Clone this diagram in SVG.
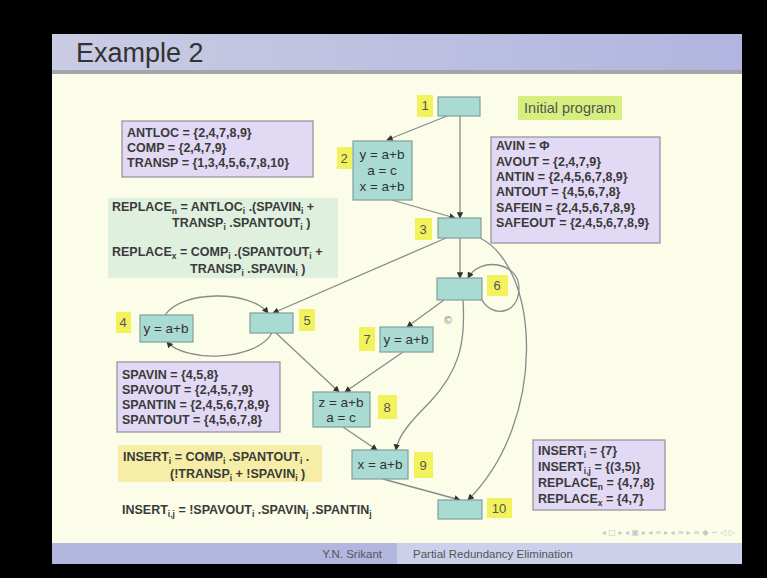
<svg xmlns="http://www.w3.org/2000/svg" width="767" height="578" viewBox="0 0 767 578">
  <defs>
    <linearGradient id="titleGrad" x1="0" y1="0" x2="1" y2="0">
      <stop offset="0" stop-color="#c9cce2"/>
      <stop offset="1" stop-color="#b1b5df"/>
    </linearGradient>
    <marker id="arrow" viewBox="0 0 8 8" refX="7" refY="4" markerWidth="5" markerHeight="5" orient="auto">
      <path d="M0,0 L8,4 L0,8 z" fill="#333"/>
    </marker>
    <style>
      .blk { fill: #a9dbd3; stroke: #7f9fa0; stroke-width: 1.2; }
      .lbl { fill: #f2f25c; }
      .lbltx { font-family: "Liberation Sans", Arial, sans-serif; font-size: 13px; fill: #555; text-anchor: middle; }
      .code { font-family: "Liberation Sans", Arial, sans-serif; font-size: 13.5px; fill: #333; text-anchor: middle; }
      .info { font-family: "Liberation Sans", Arial, sans-serif; font-size: 12.5px; font-weight: bold; fill: #3a3a3a; }
      .sub { font-size: 8.5px; }
      .lav { fill: #e2d9f4; stroke: #8f8f98; stroke-width: 1.2; }
      .edge { fill: none; stroke: #8a8a8a; stroke-width: 1.3; marker-end: url(#arrow); }
      .foot { font-family: "Liberation Sans", Arial, sans-serif; font-size: 11.5px; fill: #555; }
    </style>
  </defs>

  <!-- frame and slide -->
  <rect x="0" y="0" width="767" height="578" fill="#000"/>
  <rect x="52" y="34" width="690" height="530" fill="#fbfde9"/>
  <rect x="52" y="34" width="690" height="37" fill="url(#titleGrad)"/>
  <rect x="52" y="70" width="690" height="4" fill="#a2a6a8"/>
  <text x="76" y="62" font-family="Liberation Sans, Arial, sans-serif" font-size="27" fill="#333">Example 2</text>

  <!-- footer -->
  <rect x="52" y="543" width="345" height="21" fill="#b3b7e0"/>
  <rect x="397" y="543" width="345" height="21" fill="#cdd0ea"/>
  <text class="foot" x="382" y="558" text-anchor="end">Y.N. Srikant</text>
  <text class="foot" x="413" y="558">Partial Redundancy Elimination</text>
  <text x="735" y="535" text-anchor="end" font-family="DejaVu Sans, sans-serif" font-size="8" fill="#c8c8c8">◂ □ ▸ ◂ ▣ ▸ ◂ ≡ ▸ ◂ ≡ ▸ ≡ ◆ ∽ ◁ ▷</text>

  <!-- annotation boxes -->
  <g id="local-sets">
    <rect class="lav" x="122" y="121" width="191" height="56"/>
    <text class="info" x="127" y="137">ANTLOC = {2,4,7,8,9}</text>
    <text class="info" x="127" y="152">COMP = {2,4,7,9}</text>
    <text class="info" x="127" y="167">TRANSP = {1,3,4,5,6,7,8,10}</text>
  </g>

  <g id="replace-eqns">
    <rect x="108" y="198" width="230" height="80" fill="#e0f0df"/>
    <text class="info" x="112" y="211">REPLACE<tspan class="sub" dy="2.5">n</tspan><tspan dy="-2.5"> = ANTLOC</tspan><tspan class="sub" dy="2.5">i</tspan><tspan dy="-2.5"> .(SPAVIN</tspan><tspan class="sub" dy="2.5">i</tspan><tspan dy="-2.5"> +</tspan></text>
    <text class="info" x="172" y="227">TRANSP<tspan class="sub" dy="2.5">i</tspan><tspan dy="-2.5"> .SPANTOUT</tspan><tspan class="sub" dy="2.5">i</tspan><tspan dy="-2.5"> )</tspan></text>
    <text class="info" x="112" y="256">REPLACE<tspan class="sub" dy="2.5">x</tspan><tspan dy="-2.5"> = COMP</tspan><tspan class="sub" dy="2.5">i</tspan><tspan dy="-2.5"> .(SPANTOUT</tspan><tspan class="sub" dy="2.5">i</tspan><tspan dy="-2.5"> +</tspan></text>
    <text class="info" x="190" y="273">TRANSP<tspan class="sub" dy="2.5">i</tspan><tspan dy="-2.5"> .SPAVIN</tspan><tspan class="sub" dy="2.5">i</tspan><tspan dy="-2.5"> )</tspan></text>
  </g>

  <g id="title-tag">
    <rect x="518" y="96" width="104" height="24" fill="#d6ef7e"/>
    <text x="570" y="113" text-anchor="middle" font-family="Liberation Sans, Arial, sans-serif" font-size="14.5" fill="#555">Initial program</text>
  </g>

  <g id="global-sets">
    <rect class="lav" x="491" y="137" width="169" height="106"/>
    <text class="info" x="496" y="150">AVIN = Φ</text>
    <text class="info" x="496" y="166">AVOUT = {2,4,7,9}</text>
    <text class="info" x="496" y="181">ANTIN = {2,4,5,6,7,8,9}</text>
    <text class="info" x="496" y="196">ANTOUT = {4,5,6,7,8}</text>
    <text class="info" x="496" y="212">SAFEIN = {2,4,5,6,7,8,9}</text>
    <text class="info" x="496" y="227">SAFEOUT = {2,4,5,6,7,8,9}</text>
  </g>

  <g id="sp-sets">
    <rect class="lav" x="117" y="362" width="163" height="70"/>
    <text class="info" x="122" y="379">SPAVIN = {4,5,8}</text>
    <text class="info" x="122" y="394">SPAVOUT = {2,4,5,7,9}</text>
    <text class="info" x="122" y="409">SPANTIN = {2,4,5,6,7,8,9}</text>
    <text class="info" x="122" y="424">SPANTOUT = {4,5,6,7,8}</text>
  </g>

  <g id="insert-eqns">
    <rect x="118" y="445" width="204" height="37" fill="#f6eea6"/>
    <text class="info" x="123" y="461">INSERT<tspan class="sub" dy="2.5">i</tspan><tspan dy="-2.5"> = COMP</tspan><tspan class="sub" dy="2.5">i</tspan><tspan dy="-2.5"> .SPANTOUT</tspan><tspan class="sub" dy="2.5">i</tspan><tspan dy="-2.5"> .</tspan></text>
    <text class="info" x="170" y="478">(!TRANSP<tspan class="sub" dy="2.5">i</tspan><tspan dy="-2.5"> + !SPAVIN</tspan><tspan class="sub" dy="2.5">i</tspan><tspan dy="-2.5"> )</tspan></text>
    <text class="info" x="122" y="514">INSERT<tspan class="sub" dy="2.5">i,j</tspan><tspan dy="-2.5"> = !SPAVOUT</tspan><tspan class="sub" dy="2.5">i</tspan><tspan dy="-2.5"> .SPAVIN</tspan><tspan class="sub" dy="2.5">j</tspan><tspan dy="-2.5"> .SPANTIN</tspan><tspan class="sub" dy="2.5">j</tspan></text>
  </g>

  <g id="result-sets">
    <rect class="lav" x="533" y="440" width="132" height="70"/>
    <text class="info" x="538" y="455">INSERT<tspan class="sub" dy="2.5">i</tspan><tspan dy="-2.5"> = {7}</tspan></text>
    <text class="info" x="538" y="471">INSERT<tspan class="sub" dy="2.5">i,j</tspan><tspan dy="-2.5"> = {(3,5)}</tspan></text>
    <text class="info" x="538" y="487">REPLACE<tspan class="sub" dy="2.5">n</tspan><tspan dy="-2.5"> = {4,7,8}</tspan></text>
    <text class="info" x="538" y="503">REPLACE<tspan class="sub" dy="2.5">x</tspan><tspan dy="-2.5"> = {4,7}</tspan></text>
  </g>

  <!-- control-flow edges -->
  <g id="edges">
    <path class="edge" d="M447,116 L387,140"/>
    <path class="edge" d="M460,116 L460,218"/>
    <path class="edge" d="M392,200 L455,218"/>
    <path class="edge" d="M446,238 L273,313"/>
    <path class="edge" d="M460,238 L460,278"/>
    <path class="edge" d="M480,238 C540,268 548,420 468,500"/>
    <path class="edge" d="M165,315 C182,290 250,290 268,313"/>
    <path class="edge" d="M272,333 C255,362 185,362 167,342"/>
    <path class="edge" d="M276,333 L339,392"/>
    <path class="edge" d="M481,298 C490,318 519,316 519,288 C519,262 480,256 468,278"/>
    <path class="edge" d="M444,300 L407,327"/>
    <path class="edge" d="M463,300 C466,345 458,372 430,402 C410,422 398,436 396,450"/>
    <path class="edge" d="M403,352 L345,392"/>
    <path class="edge" d="M343,427 L377,450"/>
    <path class="edge" d="M383,479 L460,500"/>
    <text x="448" y="324" text-anchor="middle" font-family="DejaVu Sans, sans-serif" font-size="10" fill="#888">©</text>
  </g>

  <!-- basic blocks -->
  <g id="b1">
    <rect class="blk" x="438" y="97" width="42" height="19"/>
    <rect class="lbl" x="417" y="95" width="16" height="22"/>
    <text class="lbltx" x="425" y="110">1</text>
  </g>
  <g id="b2">
    <rect class="blk" x="353" y="141" width="59" height="59"/>
    <text class="code" x="382" y="159">y = a+b</text>
    <text class="code" x="382" y="175">a = c</text>
    <text class="code" x="382" y="191">x = a+b</text>
    <rect class="lbl" x="337" y="147" width="15" height="22"/>
    <text class="lbltx" x="344" y="163">2</text>
  </g>
  <g id="b3">
    <rect class="blk" x="438" y="218" width="43" height="20"/>
    <rect class="lbl" x="415" y="218" width="17" height="22"/>
    <text class="lbltx" x="423" y="234">3</text>
  </g>
  <g id="b4">
    <rect class="blk" x="140" y="315" width="53" height="27"/>
    <text class="code" x="166" y="333">y = a+b</text>
    <rect class="lbl" x="116" y="312" width="15" height="21"/>
    <text class="lbltx" x="123" y="327">4</text>
  </g>
  <g id="b5">
    <rect class="blk" x="250" y="313" width="43" height="20"/>
    <rect class="lbl" x="299" y="309" width="16" height="22"/>
    <text class="lbltx" x="307" y="325">5</text>
  </g>
  <g id="b6">
    <rect class="blk" x="437" y="278" width="45" height="22"/>
    <rect class="lbl" x="487" y="275" width="21" height="21"/>
    <text class="lbltx" x="497" y="290">6</text>
  </g>
  <g id="b7">
    <rect class="blk" x="380" y="327" width="53" height="25"/>
    <text class="code" x="406" y="344">y = a+b</text>
    <rect class="lbl" x="359" y="327" width="16" height="24"/>
    <text class="lbltx" x="367" y="344">7</text>
  </g>
  <g id="b8">
    <rect class="blk" x="313" y="392" width="57" height="35"/>
    <text class="code" x="341" y="407">z = a+b</text>
    <text class="code" x="341" y="422">a = c</text>
    <rect class="lbl" x="378" y="395" width="19" height="24"/>
    <text class="lbltx" x="387" y="412">8</text>
  </g>
  <g id="b9">
    <rect class="blk" x="352" y="450" width="56" height="29"/>
    <text class="code" x="380" y="469">x = a+b</text>
    <rect class="lbl" x="414" y="452" width="19" height="26"/>
    <text class="lbltx" x="423" y="470">9</text>
  </g>
  <g id="b10">
    <rect class="blk" x="438" y="500" width="44" height="19"/>
    <rect class="lbl" x="487" y="498" width="25" height="20"/>
    <text class="lbltx" x="499" y="513">10</text>
  </g>
</svg>
